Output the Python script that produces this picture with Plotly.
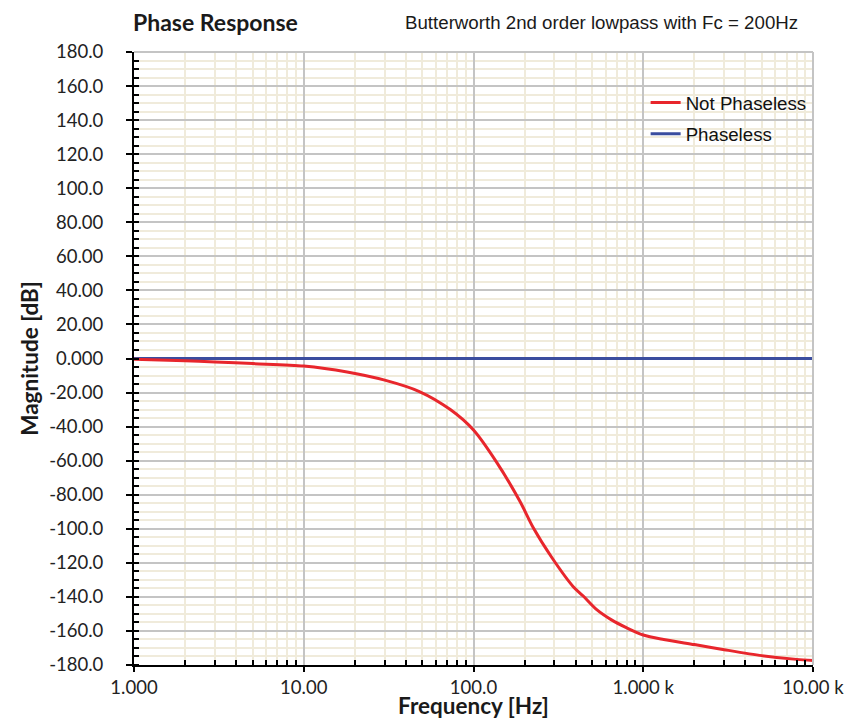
import plotly.graph_objects as go

# ---- data ----
freq_np = [1, 2, 3, 5, 10, 18, 30, 48, 73, 100, 137, 188, 225, 290,
           387, 443, 532, 650, 800, 1000, 1320, 2000, 3000, 5000, 8000, 10000]
phase_np = [-0.5, -1.3, -2.0, -3.0, -4.4, -7.9, -12.7, -19.4, -30.0, -42.0,
            -61.0, -84.0, -99.4, -117.0, -134.0, -139.5, -147.5, -153.5,
            -158.2, -162.4, -165.0, -168.0, -171.0, -174.5, -176.7, -177.3]
freq_pl = [1, 10, 100, 1000, 10000]
phase_pl = [0, 0, 0, 0, 0]

x_tickvals = [1, 10, 100, 1000, 10000]
x_ticktext = ["1.000", "10.00", "100.0", "1.000 k", "10.00 k"]
y_tickvals = [180, 160, 140, 120, 100, 80, 60, 40, 20, 0,
              -20, -40, -60, -80, -100, -120, -140, -160, -180]
y_ticktext = ["180.0", "160.0", "140.0", "120.0", "100.0", "80.00", "60.00", "40.00",
              "20.00", "0.000", "-20.00", "-40.00", "-60.00", "-80.00", "-100.0",
              "-120.0", "-140.0", "-160.0", "-180.0"]

x_minor = [m * d for d in (1, 10, 100, 1000) for m in range(2, 10)]

RED = "#e8262c"
BLUE = "#3a4d9f"
MAJOR_GRID = "#c4c4c4"
MINOR_GRID = "#f0ebdb"
TICK_FONT = dict(family="Lato, Open Sans, sans-serif", size=18.5, color="#222222")
TITLE_FONT = dict(family="Lato, sans-serif", size=22.5, color="#1a1a1a")

fig = go.Figure()
fig.add_trace(go.Scatter(x=freq_pl, y=phase_pl, mode="lines", name="Phaseless",
                         legendgroup="b",
                         line=dict(color=BLUE, width=3), legendrank=2))
fig.add_trace(go.Scatter(x=freq_np, y=phase_np, mode="lines", name="Not Phaseless",
                         legendgroup="a",
                         line=dict(color=RED, width=3, shape="spline", smoothing=0.8),
                         legendrank=1))

fig.update_layout(
    width=849, height=711,
    margin=dict(l=126, r=44, t=44, b=54, autoexpand=False),
    paper_bgcolor="white", plot_bgcolor="white",
    showlegend=True,
    legend=dict(x=0.7535, y=0.948, xanchor="left", yanchor="top",
                bgcolor="rgba(0,0,0,0)", traceorder="grouped",
                font=dict(family="Liberation Sans, Arial, sans-serif", size=18.7, color="#111111"),
                itemwidth=30, tracegroupgap=4),
)
fig.add_annotation(text="<b>Phase Response</b>", xref="paper", yref="paper",
                   x=-0.004, y=1.0485, xanchor="left", yanchor="middle", showarrow=False,
                   font=dict(family="Lato, sans-serif", size=23, color="#1a1a1a"))
fig.add_annotation(text="Butterworth 2nd order lowpass with Fc = 200Hz", xref="paper", yref="paper",
                   x=0.981, y=1.0485, xanchor="right", yanchor="middle", showarrow=False,
                   font=dict(family="Liberation Sans, Arial, sans-serif", size=18.7, color="#1a1a1a"))

fig.update_xaxes(
    type="log", range=[0, 4], automargin=False,
    tickvals=x_tickvals, ticktext=x_ticktext, tickfont=TICK_FONT,
    showgrid=True, gridcolor=MAJOR_GRID, gridwidth=1.5,
    showline=True, linecolor="black", linewidth=2,
    ticks="outside", ticklen=5, tickwidth=1.5, tickcolor="black",
    minor=dict(tickvals=x_minor, showgrid=True, gridcolor=MINOR_GRID, gridwidth=1.5,
               ticks="inside", ticklen=5, tickwidth=1.5, tickcolor="black"),
    title=dict(text="<b>Frequency [Hz]</b>", standoff=0, font=TITLE_FONT),
    zeroline=False,
)
fig.update_yaxes(
    range=[-180, 180], automargin=False,
    tickvals=y_tickvals, ticktext=y_ticktext, tickfont=TICK_FONT,
    ticklabelstandoff=19,
    showgrid=True, gridcolor=MAJOR_GRID, gridwidth=1.5,
    showline=True, linecolor="black", linewidth=2,
    ticks="outside", ticklen=6, tickwidth=1.5, tickcolor="black",
    minor=dict(dtick=5, showgrid=True, gridcolor=MINOR_GRID, gridwidth=1.5,
               ticks="inside", ticklen=5, tickwidth=1.5, tickcolor="black"),
    title=dict(text="<b>Magnitude [dB]</b>", standoff=4, font=TITLE_FONT),
    zeroline=False,
)

# frame on top and right (gray)
fig.add_shape(type="line", xref="paper", yref="paper", x0=0, x1=1, y0=1, y1=1,
              line=dict(color=MAJOR_GRID, width=2))
fig.add_shape(type="line", xref="paper", yref="paper", x0=1, x1=1, y0=0, y1=1,
              line=dict(color=MAJOR_GRID, width=2))

fig.write_html("out.html")
